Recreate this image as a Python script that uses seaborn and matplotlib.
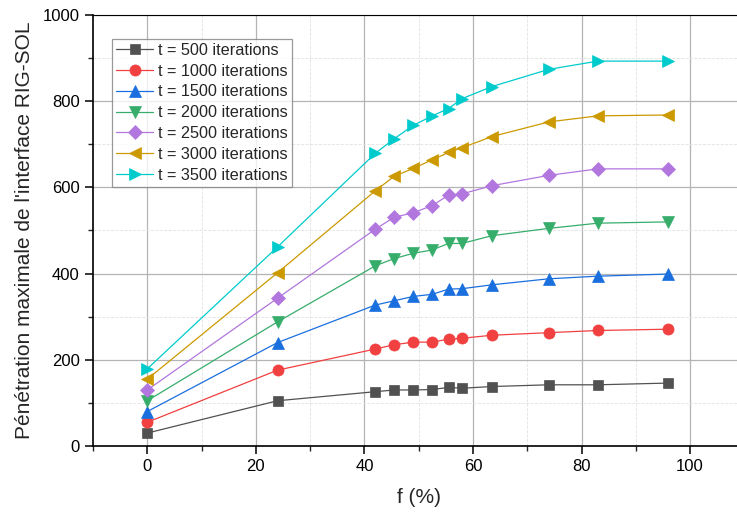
import numpy as np
import pandas as pd
import seaborn as sns
import matplotlib

matplotlib.use('Agg')
import matplotlib.pyplot as plt
from matplotlib.ticker import MultipleLocator

# taux f (%)
f = [0, 24, 42, 45.5, 49, 52.5, 55.5, 58, 63.5, 74, 83, 96]

# pénétration maximale pour chaque nombre d'itérations
p500 = [30, 105, 126, 130, 130, 131, 136, 134, 138, 142, 142, 146]
p1000 = [55, 176, 225, 235, 241, 241, 248, 250, 257, 263, 268, 271]
p1500 = [80, 240, 327, 337, 347, 352, 364, 365, 374, 388, 394, 399]
p2000 = [105, 288, 418, 435, 447, 455, 470, 470, 488, 505, 517, 520]
p2500 = [130, 343, 503, 531, 541, 558, 582, 585, 604, 628, 643, 643]
p3000 = [155, 402, 592, 626, 644, 664, 681, 692, 718, 752, 766, 768]
p3500 = [179, 462, 679, 713, 744, 766, 783, 806, 834, 874, 893, 893]

labels = ["t = 500 iterations", "t = 1000 iterations", "t = 1500 iterations",
          "t = 2000 iterations", "t = 2500 iterations", "t = 3000 iterations",
          "t = 3500 iterations"]
series = [p500, p1000, p1500, p2000, p2500, p3000, p3500]
colors = ["#515151", "#F14040", "#1A6FDF", "#37AD6B", "#B177DE", "#CC9900", "#00CBCC"]
markers = ["s", "o", "^", "v", "D", "<", ">"]
msizes = [7, 8, 8.5, 8.5, 7, 8.5, 8.5]

sns.set_style("white")
plt.rcParams['font.family'] = ['Liberation Sans', 'DejaVu Sans']

fig = plt.figure(figsize=(7.37, 5.2), dpi=100)
ax = fig.add_axes([93 / 737, 74 / 520, 651.4 / 737, 431 / 520])

for lab, vals, col, mk, ms in zip(labels, series, colors, markers, msizes):
    df = pd.DataFrame({"f": f, "p": vals})
    sns.lineplot(data=df, x="f", y="p", ax=ax, color=col, marker=mk,
                 markersize=ms, markeredgecolor=col, markerfacecolor=col,
                 markeredgewidth=0.5, linewidth=0.9, label=lab)

ax.set_xlim(-10, 110)
ax.set_ylim(0, 1000)
ax.xaxis.set_major_locator(MultipleLocator(20))
ax.xaxis.set_minor_locator(MultipleLocator(10))
ax.yaxis.set_major_locator(MultipleLocator(200))
ax.yaxis.set_minor_locator(MultipleLocator(100))

ax.grid(which='major', color='#b4b4b4', linewidth=0.9, linestyle='-')
ax.grid(which='minor', color='#e2e2e2', linewidth=0.6, linestyle='--')
ax.set_axisbelow(True)

for s in ['left', 'bottom', 'top']:
    ax.spines[s].set_color('black')
    ax.spines[s].set_linewidth(1.2)
ax.spines['top'].set_linewidth(0.8)
ax.spines['right'].set_visible(False)

ax.tick_params(which='major', direction='out', length=6, width=1.1,
               labelsize=12, bottom=True, left=True, colors='black')
ax.tick_params(which='minor', direction='out', length=3.5, width=1,
               bottom=True, left=True)

ax.set_xlabel("f (%)", fontsize=15, labelpad=10)
ax.set_ylabel("Pénétration maximale de l'interface RIG-SOL", fontsize=15, labelpad=6)

leg = ax.legend(loc='upper left', bbox_to_anchor=(0.029, 0.945), borderaxespad=0,
                fontsize=11.7, frameon=True, fancybox=False, handlelength=2.3,
                labelspacing=0.36, handletextpad=0.3, borderpad=0.25)
leg.get_frame().set_edgecolor('#808080')
leg.get_frame().set_linewidth(0.9)

plt.savefig("out.png", dpi=100)
